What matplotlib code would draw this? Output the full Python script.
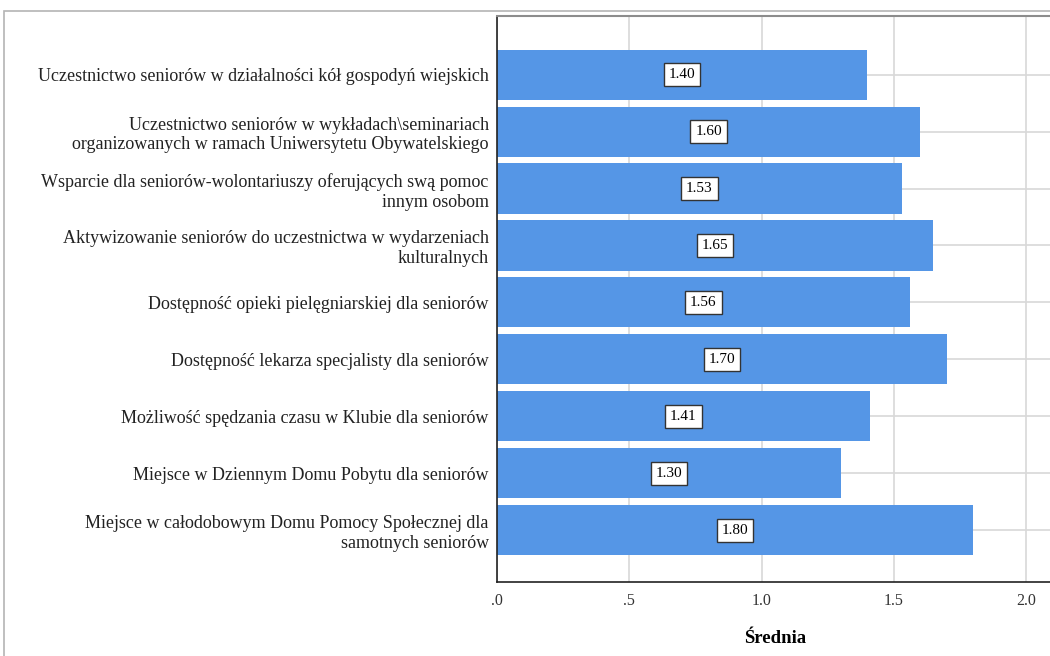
import numpy as np
import matplotlib.pyplot as plt
from matplotlib.patches import Rectangle

# Data (top to bottom)
categories = [
    'Uczestnictwo seniorów w działalności kół gospodyń wiejskich',
    'Uczestnictwo seniorów w wykładach\\seminariach\norganizowanych w ramach Uniwersytetu Obywatelskiego',
    'Wsparcie dla seniorów-wolontariuszy oferujących swą pomoc\ninnym osobom',
    'Aktywizowanie seniorów do uczestnictwa w wydarzeniach\nkulturalnych',
    'Dostępność opieki pielęgniarskiej dla seniorów',
    'Dostępność lekarza specjalisty dla seniorów',
    'Możliwość spędzania czasu w Klubie dla seniorów',
    'Miejsce w Dziennym Domu Pobytu dla seniorów',
    'Miejsce w całodobowym Domu Pomocy Społecznej dla\nsamotnych seniorów',
]
means = [1.40, 1.60, 1.53, 1.65, 1.56, 1.70, 1.41, 1.30, 1.80]
xticks = [0.0, 0.5, 1.0, 1.5, 2.0]
xtick_labels = ['.0', '.5', '1.0', '1.5', '2.0']

plt.rcParams['font.family'] = ['Liberation Serif', 'DejaVu Serif']

fig = plt.figure(figsize=(10.5, 6.56), dpi=100)

# outer frame (light grey, partly cut off like the original export)
fig.patches.append(Rectangle((4 / 1050, -0.1), 1.2, 1 - 11 / 656 + 0.1,
                             transform=fig.transFigure, fill=False,
                             edgecolor='#b4b4b4', linewidth=1.2))

ax = fig.add_axes([497 / 1050, 1 - 582 / 656, 1 - 497 / 1050, (582 - 16) / 656])

y = np.arange(len(categories))
ax.barh(y, means, height=0.88, color='#5596E6', zorder=2)

for yi, v in zip(y, means):
    ax.text(v / 2, yi, f'{v:.2f}', ha='center', va='center', fontsize=11, zorder=4,
            bbox=dict(boxstyle='square,pad=0.32', facecolor='white', edgecolor='#333333', linewidth=1))

ax.set_ylim(len(categories) - 1 + 0.91, -1.03)
ax.set_xlim(0, (1050 - 497) / 264.5)

ax.set_yticks(y)
ax.set_yticklabels(categories, fontsize=13, color='#222222', linespacing=1.2)
ax.tick_params(axis='y', length=0, pad=6)
ax.set_xticks(xticks)
ax.set_xticklabels(xtick_labels, fontsize=11.5, color='#333333')
ax.tick_params(axis='x', length=0, pad=8)

ax.grid(True, color='#d8d8d8', linewidth=1.2, zorder=0)
ax.set_axisbelow(True)

ax.spines['left'].set_color('#222222')
ax.spines['bottom'].set_color('#222222')
ax.spines['left'].set_linewidth(1.2)
ax.spines['bottom'].set_linewidth(1.2)
ax.spines['top'].set_color('#8c8c8c')
ax.spines['top'].set_linewidth(1.5)
ax.spines['right'].set_visible(False)

ax.set_xlabel('Średnia', fontsize=13.5, fontweight='bold')
ax.xaxis.set_label_coords((775 - 497) / (1050 - 497), -0.085)

fig.savefig('out.png', dpi=100, facecolor='white')
